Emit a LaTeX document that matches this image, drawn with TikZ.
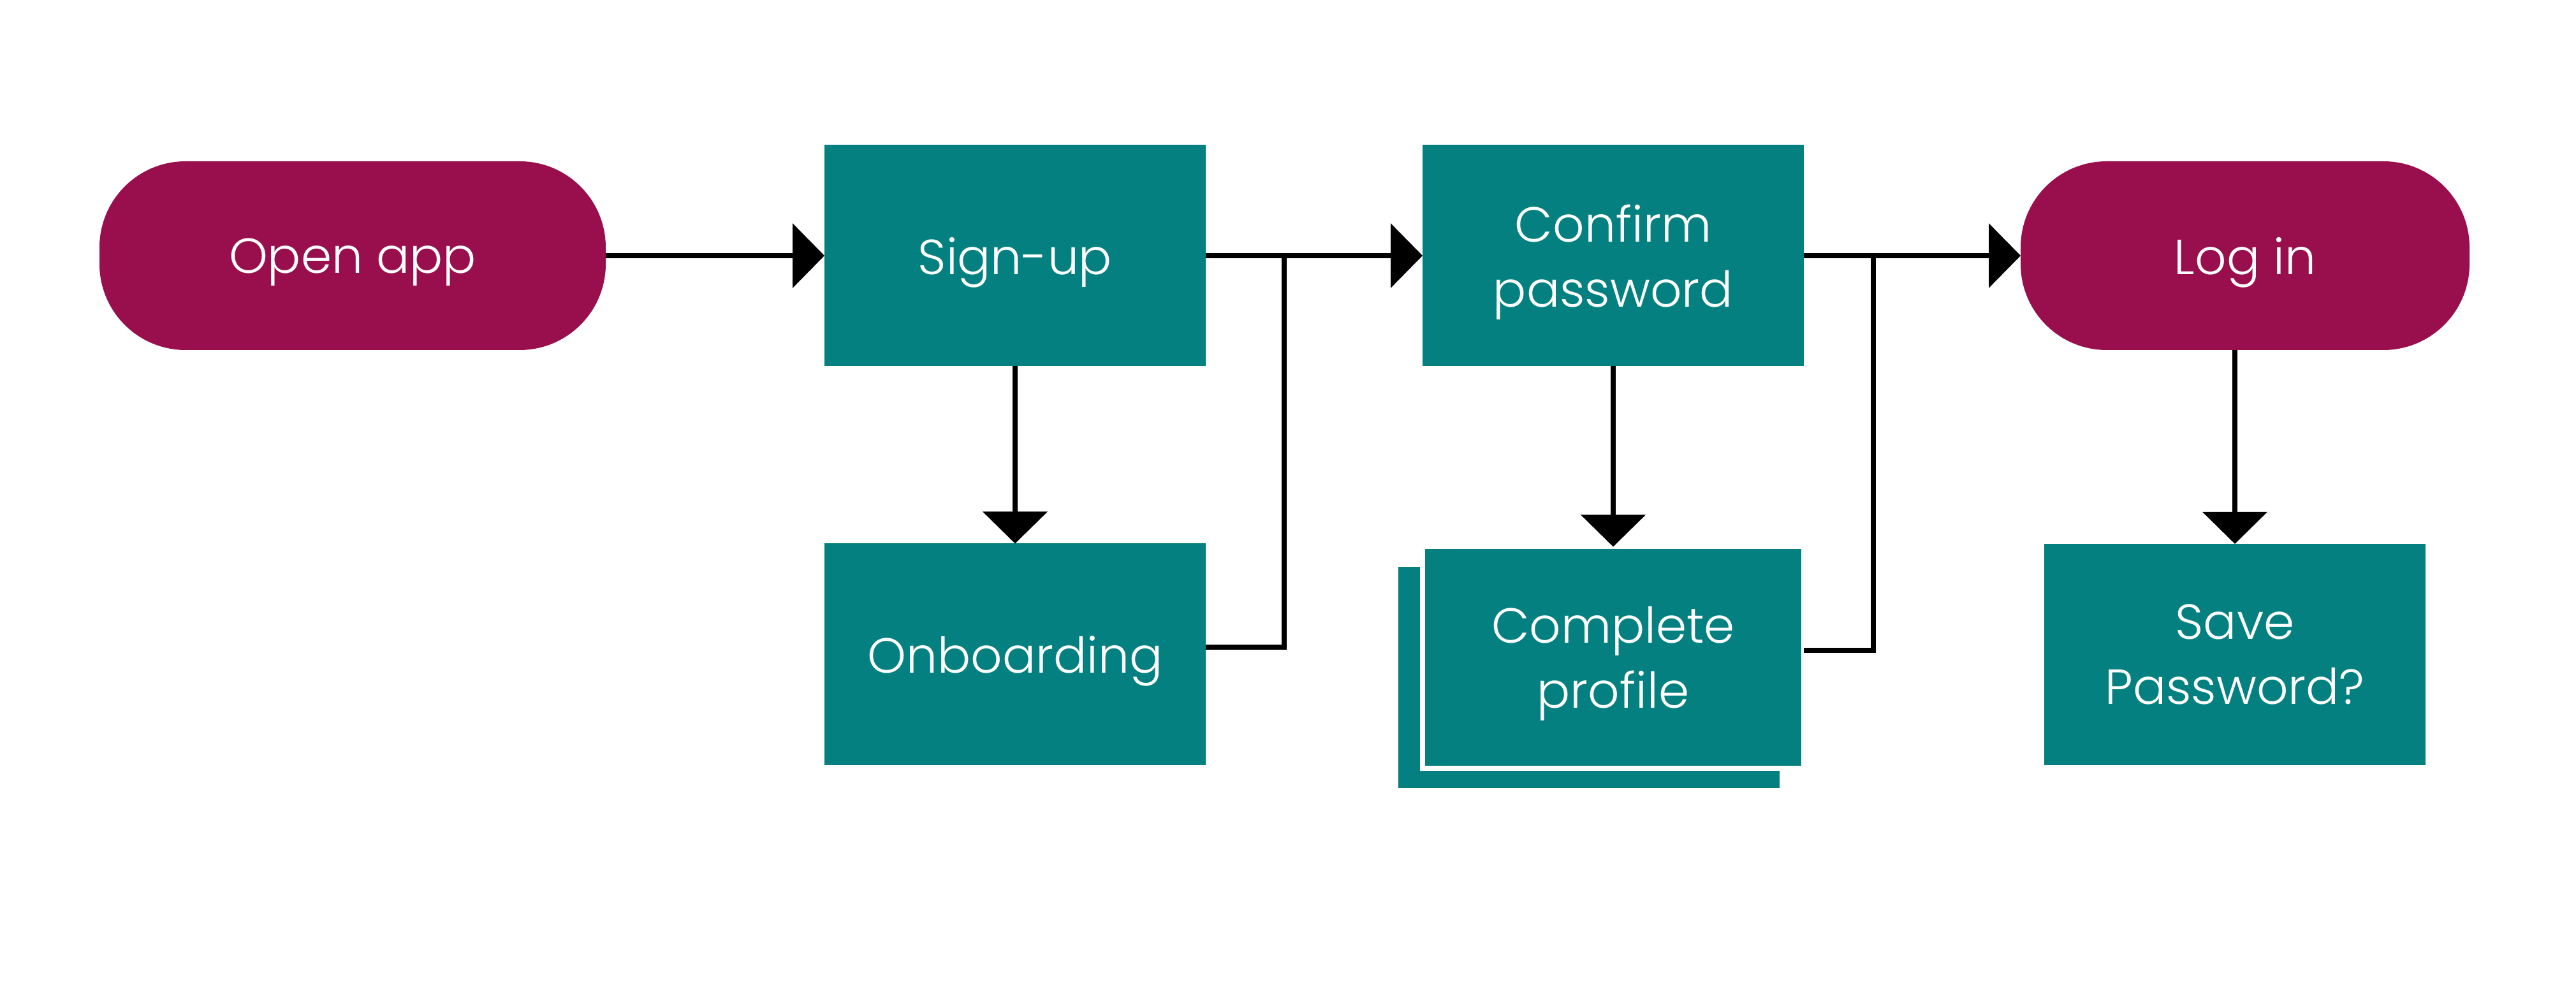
\documentclass[tikz,border=0pt]{standalone}
\usepackage{fontspec}
\setmainfont{Poppins Light}
\usepackage{tikz}
\usetikzlibrary{arrows.meta,positioning,shadows}

\definecolor{appteal}{RGB}{4,128,128}
\definecolor{appberry}{RGB}{153,15,77}

\begin{document}
\begin{tikzpicture}[>={Triangle[length=5mm,width=10mm]},line width=0.8mm,
                    node distance=3.4cm,font=\fontsize{22}{29}\selectfont]
  \tikzstyle{terminal}=[fill=appberry,text=white,rounded corners=1.35cm,
                        minimum width=7.94cm,minimum height=2.96cm,
                        inner sep=0pt,outer sep=0pt,text depth=0pt,
                        align=center]
  \tikzstyle{process}=[fill=appteal,text=white,minimum width=5.98cm,
                       minimum height=3.47cm,inner sep=0pt,outer sep=0pt,
                       text depth=0pt,align=center]

  \useasboundingbox (0,0) rectangle (40.40,-15.48);

  \node[terminal] (open) at (5.53,-4.01) {Open app};
  \node[process]  (signup)  [right=3.43cm of open]   {Sign-up};
  \node[process]  (confirm) [right=3.40cm of signup] {Confirm\\password};
  \node[terminal,minimum width=7.04cm] (login) [right=3.40cm of confirm] {Log in};

  \node[process]  (onboard) [below=2.78cm of signup] {Onboarding};
  \node[process,draw=white,
        copy shadow={shadow xshift=-3.85mm,shadow yshift=-3.15mm,draw=none}]
                  (profile) [below=2.83cm of confirm] {Complete\\profile};
  \node[process]  (save) [below=3.04cm of login,xshift=-0.16cm] {Save\\Password?};

  \coordinate (j1) at ([xshift=1.23cm]signup.east);
  \coordinate (j2) at ([xshift=1.09cm]confirm.east);

  \path[->] (open)    edge (signup)
            (signup)  edge (confirm)
                      edge (onboard)
            (confirm) edge (login)
                      edge (profile)
            (login.south -| save.north) edge (save);
  \draw ([yshift=1.1mm]onboard.east) -| (j1);
  \draw ([yshift=1.1mm]profile.east) -| (j2);
\end{tikzpicture}
\end{document}
